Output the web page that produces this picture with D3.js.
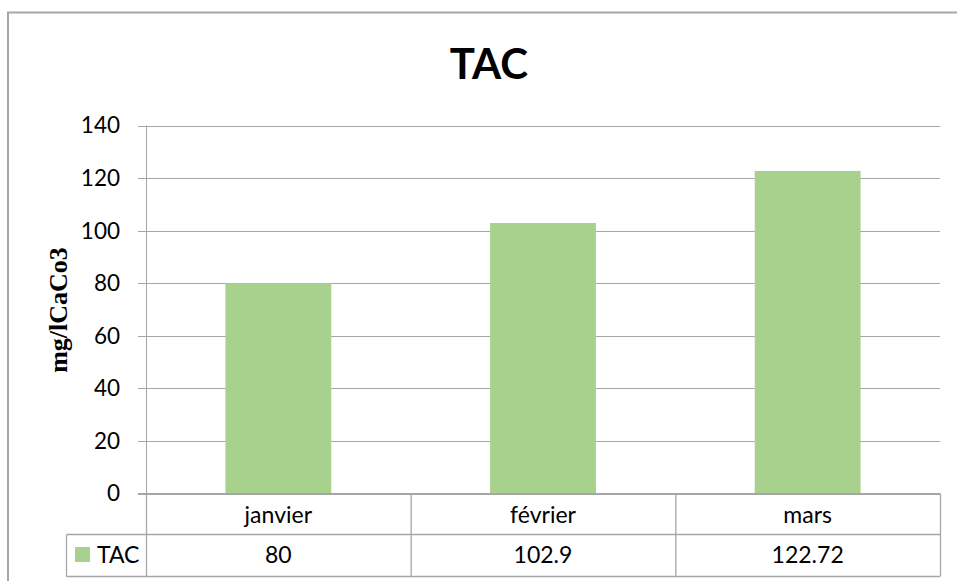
<!DOCTYPE html>
<html><head><meta charset="utf-8">
<script src="https://cdn.jsdelivr.net/npm/d3@7"></script>
<style>body{margin:0;background:#fff}svg{display:block}</style>
</head><body>
<script>
const categories = ["janvier", "février", "mars"];
const tacValues = [80, 102.9, 122.72];
const tacLabels = ["80", "102.9", "122.72"];
const yTicks = [0, 20, 40, 60, 80, 100, 120, 140];
const seriesName = "TAC";

const W = 957, H = 581;
const svg = d3.select("body").append("svg").attr("width", W).attr("height", H);
const sans = "Lato, 'Open Sans', sans-serif";
const grey = "#a6a6a6";

// outer border
svg.append("rect").attr("x", 8).attr("y", 12.5).attr("width", 980).attr("height", 600)
  .attr("fill", "none").attr("stroke", grey).attr("stroke-width", 2);

const x0 = 146, x1 = 940, yTop = 125.5, yBot = 493.5;
const x = d3.scaleBand().domain(categories).range([x0, x1]).padding(0);
const y = d3.scaleLinear().domain([0, 140]).range([yBot, yTop]);

// gridlines
svg.append("g").selectAll("line").data(yTicks).join("line")
  .attr("x1", x0 - 8).attr("x2", x1)
  .attr("y1", d => Math.round(y(d)) + 0.5).attr("y2", d => Math.round(y(d)) + 0.5)
  .attr("stroke", grey).attr("stroke-width", 1);

// y axis line
svg.append("line").attr("x1", x0 + 0.5).attr("x2", x0 + 0.5).attr("y1", yTop).attr("y2", yBot)
  .attr("stroke", grey);

// tick labels
svg.append("g").selectAll("text").data(yTicks).join("text")
  .attr("x", 120).attr("y", d => y(d)).attr("dy", "0.35em")
  .attr("text-anchor", "end").attr("font-family", sans).attr("font-size", 22.5)
  .attr("fill", "#000").text(d => d);

// bars
const bw = x.bandwidth() * 0.4;
svg.append("g").selectAll("rect").data(tacValues).join("rect")
  .attr("x", (d, i) => x(categories[i]) + (x.bandwidth() - bw) / 2)
  .attr("width", bw)
  .attr("y", d => y(d)).attr("height", d => yBot - y(d))
  .attr("fill", "#a9d18e");

// axis line at zero over bars
svg.append("line").attr("x1", x0 - 8).attr("x2", x1).attr("y1", yBot).attr("y2", yBot)
  .attr("stroke", grey);

// data table
const r1 = 534.5, r2 = 576.5, legLeft = 66.5;
const tbl = svg.append("g").attr("stroke", grey).attr("stroke-width", 1.3);
tbl.append("line").attr("x1", legLeft).attr("x2", x1).attr("y1", r1).attr("y2", r1);
tbl.append("line").attr("x1", legLeft).attr("x2", x1).attr("y1", r2).attr("y2", r2);
tbl.append("line").attr("x1", legLeft).attr("x2", legLeft).attr("y1", r1).attr("y2", r2);
const vx = categories.map(c => x(c)).concat([x1]);
tbl.selectAll(".v").data(vx).join("line").attr("class", "v")
  .attr("x1", d => d + 0.5).attr("x2", d => d + 0.5).attr("y1", yBot).attr("y2", r2);

svg.append("g").selectAll("text").data(categories).join("text")
  .attr("x", d => x(d) + x.bandwidth() / 2).attr("y", 523)
  .attr("text-anchor", "middle").attr("font-family", sans).attr("font-size", 23)
  .text(d => d);
svg.append("g").selectAll("text").data(tacLabels).join("text")
  .attr("x", (d, i) => x(categories[i]) + x.bandwidth() / 2).attr("y", 563)
  .attr("text-anchor", "middle").attr("font-family", sans).attr("font-size", 23)
  .text(d => d);

// legend key
svg.append("rect").attr("x", 75).attr("y", 547).attr("width", 15).attr("height", 15).attr("fill", "#a9d18e");
svg.append("text").attr("x", 97).attr("y", 563).attr("font-family", sans).attr("font-size", 23).text(seriesName);

// title
svg.append("text").attr("x", 489).attr("y", 79).attr("text-anchor", "middle")
  .attr("font-family", sans).attr("font-weight", "bold").attr("font-size", 42).text("TAC");

// y axis title
svg.append("text").attr("transform", "translate(67,310) rotate(-90)")
  .attr("text-anchor", "middle").attr("font-family", "'Liberation Serif', 'Times New Roman', serif")
  .attr("font-weight", "bold").attr("font-size", 26).text("mg/lCaCo3");
</script>
</body></html>
